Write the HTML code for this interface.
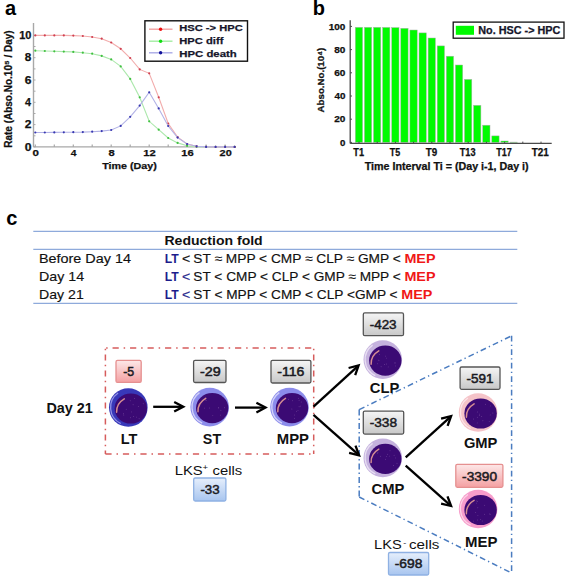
<!DOCTYPE html>
<html><head><meta charset="utf-8"><title>Figure</title>
<style>
html,body{margin:0;padding:0;background:#fff;}
body{width:567px;height:579px;overflow:hidden;}
svg{display:block;font-family:"Liberation Sans", sans-serif;}
</style></head><body>
<svg width="567" height="579" viewBox="0 0 567 579">
<defs>
<linearGradient id="gG" x1="0" y1="0" x2="0" y2="1"><stop offset="0" stop-color="#f5f5f5"/><stop offset="1" stop-color="#c8c8c8"/></linearGradient>
<linearGradient id="gP" x1="0" y1="0" x2="0" y2="1"><stop offset="0" stop-color="#fde8e8"/><stop offset="1" stop-color="#f4a0a2"/></linearGradient>
<linearGradient id="gB" x1="0" y1="0" x2="0" y2="1"><stop offset="0" stop-color="#e6effc"/><stop offset="1" stop-color="#a8c5ef"/></linearGradient>
</defs>
<text x="5" y="15.2" font-size="20" font-weight="bold">a</text>
<text x="312.8" y="15.2" font-size="20" font-weight="bold">b</text>
<text x="6.3" y="224.8" font-size="20" font-weight="bold">c</text>
<g id="chartA">
<line x1="33.5" y1="23" x2="33.5" y2="146.9" stroke="#a8a8a8" stroke-width="1.4"/>
<line x1="33.5" y1="146.9" x2="236" y2="146.9" stroke="#a8a8a8" stroke-width="1.4"/>
<line x1="35.3" y1="146.9" x2="35.3" y2="144.4" stroke="#a8a8a8" stroke-width="1.2"/>
<line x1="54.3" y1="146.9" x2="54.3" y2="144.4" stroke="#a8a8a8" stroke-width="1.2"/>
<line x1="73.3" y1="146.9" x2="73.3" y2="144.4" stroke="#a8a8a8" stroke-width="1.2"/>
<line x1="92.2" y1="146.9" x2="92.2" y2="144.4" stroke="#a8a8a8" stroke-width="1.2"/>
<line x1="111.2" y1="146.9" x2="111.2" y2="144.4" stroke="#a8a8a8" stroke-width="1.2"/>
<line x1="130.2" y1="146.9" x2="130.2" y2="144.4" stroke="#a8a8a8" stroke-width="1.2"/>
<line x1="149.2" y1="146.9" x2="149.2" y2="144.4" stroke="#a8a8a8" stroke-width="1.2"/>
<line x1="168.2" y1="146.9" x2="168.2" y2="144.4" stroke="#a8a8a8" stroke-width="1.2"/>
<line x1="187.1" y1="146.9" x2="187.1" y2="144.4" stroke="#a8a8a8" stroke-width="1.2"/>
<line x1="206.1" y1="146.9" x2="206.1" y2="144.4" stroke="#a8a8a8" stroke-width="1.2"/>
<line x1="225.1" y1="146.9" x2="225.1" y2="144.4" stroke="#a8a8a8" stroke-width="1.2"/>
<line x1="33.5" y1="146.9" x2="35.5" y2="146.9" stroke="#a8a8a8" stroke-width="1"/>
<line x1="33.5" y1="135.8" x2="35.5" y2="135.8" stroke="#a8a8a8" stroke-width="1"/>
<line x1="33.5" y1="124.6" x2="35.5" y2="124.6" stroke="#a8a8a8" stroke-width="1"/>
<line x1="33.5" y1="113.5" x2="35.5" y2="113.5" stroke="#a8a8a8" stroke-width="1"/>
<line x1="33.5" y1="102.3" x2="35.5" y2="102.3" stroke="#a8a8a8" stroke-width="1"/>
<line x1="33.5" y1="91.2" x2="35.5" y2="91.2" stroke="#a8a8a8" stroke-width="1"/>
<line x1="33.5" y1="80.0" x2="35.5" y2="80.0" stroke="#a8a8a8" stroke-width="1"/>
<line x1="33.5" y1="68.9" x2="35.5" y2="68.9" stroke="#a8a8a8" stroke-width="1"/>
<line x1="33.5" y1="57.7" x2="35.5" y2="57.7" stroke="#a8a8a8" stroke-width="1"/>
<line x1="33.5" y1="46.5" x2="35.5" y2="46.5" stroke="#a8a8a8" stroke-width="1"/>
<line x1="33.5" y1="35.4" x2="35.5" y2="35.4" stroke="#a8a8a8" stroke-width="1"/>
<text x="24.72" y="150.5" font-size="10.17" font-weight="bold" fill="#111" textLength="6.78" lengthAdjust="spacingAndGlyphs" stroke="#111" stroke-width="0.25">0</text>
<text x="24.78" y="128.2" font-size="10.17" font-weight="bold" fill="#111" textLength="6.70" lengthAdjust="spacingAndGlyphs" stroke="#111" stroke-width="0.25">2</text>
<text x="25.04" y="105.9" font-size="10.17" font-weight="bold" fill="#111" textLength="6.02" lengthAdjust="spacingAndGlyphs" stroke="#111" stroke-width="0.25">4</text>
<text x="24.76" y="83.6" font-size="10.17" font-weight="bold" fill="#111" textLength="6.67" lengthAdjust="spacingAndGlyphs" stroke="#111" stroke-width="0.25">6</text>
<text x="24.83" y="61.3" font-size="10.17" font-weight="bold" fill="#111" textLength="6.53" lengthAdjust="spacingAndGlyphs" stroke="#111" stroke-width="0.25">8</text>
<text x="19.21" y="39.0" font-size="10.17" font-weight="bold" fill="#111" textLength="12.24" lengthAdjust="spacingAndGlyphs" stroke="#111" stroke-width="0.25">10</text>
<text x="32.59" y="156.1" font-size="9.59" font-weight="bold" fill="#111" textLength="6.43" lengthAdjust="spacingAndGlyphs" stroke="#111" stroke-width="0.25">0</text>
<text x="70.85" y="156.1" font-size="9.59" font-weight="bold" fill="#111" textLength="5.71" lengthAdjust="spacingAndGlyphs" stroke="#111" stroke-width="0.25">4</text>
<text x="108.62" y="156.1" font-size="9.59" font-weight="bold" fill="#111" textLength="6.20" lengthAdjust="spacingAndGlyphs" stroke="#111" stroke-width="0.25">8</text>
<text x="143.32" y="156.1" font-size="9.59" font-weight="bold" fill="#111" textLength="12.45" lengthAdjust="spacingAndGlyphs" stroke="#111" stroke-width="0.25">12</text>
<text x="181.29" y="156.1" font-size="9.59" font-weight="bold" fill="#111" textLength="12.41" lengthAdjust="spacingAndGlyphs" stroke="#111" stroke-width="0.25">16</text>
<text x="219.57" y="156.1" font-size="9.59" font-weight="bold" fill="#111" textLength="12.13" lengthAdjust="spacingAndGlyphs" stroke="#111" stroke-width="0.25">20</text>
<text x="102.28" y="169.2" font-size="9.59" font-weight="bold" fill="#111" textLength="54.55" lengthAdjust="spacingAndGlyphs" stroke="#111" stroke-width="0.25">Time (Day)</text>
<text transform="translate(12.1,147.1) rotate(-90)" x="-0.67" y="0" font-size="10.47" font-weight="bold" fill="#111" stroke="#111" stroke-width="0.25" textLength="117.37" lengthAdjust="spacingAndGlyphs">Rate (Abso.No.10⁵ / Day)</text>
<polyline points="35.3,50.7 44.8,51.0 54.3,51.3 63.8,51.6 73.3,51.9 82.8,52.7 92.2,53.7 101.7,55.9 111.2,59.4 120.7,66.4 130.2,78.9 139.7,97.3 149.2,121.3 158.7,129.7 168.2,138.0 177.6,142.9 187.1,145.8 196.6,146.7 206.1,146.9 215.6,146.9 225.1,146.9 234.6,146.9" fill="none" stroke="#ace8ac" stroke-width="1.1"/>
<circle cx="35.3" cy="50.7" r="1.1" fill="#40c040"/>
<circle cx="44.8" cy="51.0" r="1.1" fill="#40c040"/>
<circle cx="54.3" cy="51.3" r="1.1" fill="#40c040"/>
<circle cx="63.8" cy="51.6" r="1.1" fill="#40c040"/>
<circle cx="73.3" cy="51.9" r="1.1" fill="#40c040"/>
<circle cx="82.8" cy="52.7" r="1.1" fill="#40c040"/>
<circle cx="92.2" cy="53.7" r="1.1" fill="#40c040"/>
<circle cx="101.7" cy="55.9" r="1.1" fill="#40c040"/>
<circle cx="111.2" cy="59.4" r="1.1" fill="#40c040"/>
<circle cx="120.7" cy="66.4" r="1.1" fill="#40c040"/>
<circle cx="130.2" cy="78.9" r="1.1" fill="#40c040"/>
<circle cx="139.7" cy="97.3" r="1.1" fill="#40c040"/>
<circle cx="149.2" cy="121.3" r="1.1" fill="#40c040"/>
<circle cx="158.7" cy="129.7" r="1.1" fill="#40c040"/>
<circle cx="168.2" cy="138.0" r="1.1" fill="#40c040"/>
<circle cx="177.6" cy="142.9" r="1.1" fill="#40c040"/>
<circle cx="187.1" cy="145.8" r="1.1" fill="#40c040"/>
<circle cx="196.6" cy="146.7" r="1.1" fill="#40c040"/>
<circle cx="206.1" cy="146.9" r="1.1" fill="#40c040"/>
<circle cx="215.6" cy="146.9" r="1.1" fill="#40c040"/>
<circle cx="225.1" cy="146.9" r="1.1" fill="#40c040"/>
<circle cx="234.6" cy="146.9" r="1.1" fill="#40c040"/>
<polyline points="35.3,35.4 44.8,35.4 54.3,35.4 63.8,35.4 73.3,35.6 82.8,36.0 92.2,37.0 101.7,38.7 111.2,42.5 120.7,48.8 130.2,58.0 139.7,69.4 149.2,73.3 158.7,97.3 168.2,123.5 177.6,137.1 187.1,144.0 196.6,146.3 206.1,146.8 215.6,146.9 225.1,146.9 234.6,146.9" fill="none" stroke="#f2acac" stroke-width="1.1"/>
<circle cx="35.3" cy="35.4" r="1.1" fill="#d04050"/>
<circle cx="44.8" cy="35.4" r="1.1" fill="#d04050"/>
<circle cx="54.3" cy="35.4" r="1.1" fill="#d04050"/>
<circle cx="63.8" cy="35.4" r="1.1" fill="#d04050"/>
<circle cx="73.3" cy="35.6" r="1.1" fill="#d04050"/>
<circle cx="82.8" cy="36.0" r="1.1" fill="#d04050"/>
<circle cx="92.2" cy="37.0" r="1.1" fill="#d04050"/>
<circle cx="101.7" cy="38.7" r="1.1" fill="#d04050"/>
<circle cx="111.2" cy="42.5" r="1.1" fill="#d04050"/>
<circle cx="120.7" cy="48.8" r="1.1" fill="#d04050"/>
<circle cx="130.2" cy="58.0" r="1.1" fill="#d04050"/>
<circle cx="139.7" cy="69.4" r="1.1" fill="#d04050"/>
<circle cx="149.2" cy="73.3" r="1.1" fill="#d04050"/>
<circle cx="158.7" cy="97.3" r="1.1" fill="#d04050"/>
<circle cx="168.2" cy="123.5" r="1.1" fill="#d04050"/>
<circle cx="177.6" cy="137.1" r="1.1" fill="#d04050"/>
<circle cx="187.1" cy="144.0" r="1.1" fill="#d04050"/>
<circle cx="196.6" cy="146.3" r="1.1" fill="#d04050"/>
<circle cx="206.1" cy="146.8" r="1.1" fill="#d04050"/>
<circle cx="215.6" cy="146.9" r="1.1" fill="#d04050"/>
<circle cx="225.1" cy="146.9" r="1.1" fill="#d04050"/>
<circle cx="234.6" cy="146.9" r="1.1" fill="#d04050"/>
<polyline points="35.3,132.5 44.8,132.5 54.3,132.4 63.8,132.3 73.3,132.2 82.8,132.1 92.2,131.7 101.7,131.1 111.2,130.0 120.7,125.9 130.2,116.8 139.7,105.6 149.2,92.3 158.7,108.4 168.2,126.0 177.6,137.6 187.1,144.0 196.6,146.3 206.1,146.9 215.6,146.9 225.1,146.9 234.6,146.9" fill="none" stroke="#b2b2e6" stroke-width="1.1"/>
<circle cx="35.3" cy="132.5" r="1.1" fill="#3838b0"/>
<circle cx="44.8" cy="132.5" r="1.1" fill="#3838b0"/>
<circle cx="54.3" cy="132.4" r="1.1" fill="#3838b0"/>
<circle cx="63.8" cy="132.3" r="1.1" fill="#3838b0"/>
<circle cx="73.3" cy="132.2" r="1.1" fill="#3838b0"/>
<circle cx="82.8" cy="132.1" r="1.1" fill="#3838b0"/>
<circle cx="92.2" cy="131.7" r="1.1" fill="#3838b0"/>
<circle cx="101.7" cy="131.1" r="1.1" fill="#3838b0"/>
<circle cx="111.2" cy="130.0" r="1.1" fill="#3838b0"/>
<circle cx="120.7" cy="125.9" r="1.1" fill="#3838b0"/>
<circle cx="130.2" cy="116.8" r="1.1" fill="#3838b0"/>
<circle cx="139.7" cy="105.6" r="1.1" fill="#3838b0"/>
<circle cx="149.2" cy="92.3" r="1.1" fill="#3838b0"/>
<circle cx="158.7" cy="108.4" r="1.1" fill="#3838b0"/>
<circle cx="168.2" cy="126.0" r="1.1" fill="#3838b0"/>
<circle cx="177.6" cy="137.6" r="1.1" fill="#3838b0"/>
<circle cx="187.1" cy="144.0" r="1.1" fill="#3838b0"/>
<circle cx="196.6" cy="146.3" r="1.1" fill="#3838b0"/>
<circle cx="206.1" cy="146.9" r="1.1" fill="#3838b0"/>
<circle cx="215.6" cy="146.9" r="1.1" fill="#3838b0"/>
<circle cx="225.1" cy="146.9" r="1.1" fill="#3838b0"/>
<circle cx="234.6" cy="146.9" r="1.1" fill="#3838b0"/>
<rect x="144.9" y="20.8" width="102.6" height="40.4" fill="#fff" stroke="#111" stroke-width="1.4"/>
<line x1="149" y1="29.2" x2="172.5" y2="29.2" stroke="#f2a2a2" stroke-width="1.4"/>
<circle cx="160.6" cy="29.2" r="1.7" fill="#ee1111"/>
<text x="179.25" y="31.3" font-size="9.74" font-weight="bold" fill="#15152a" textLength="63.45" lengthAdjust="spacingAndGlyphs" stroke="#15152a" stroke-width="0.25">HSC -&gt; HPC</text>
<line x1="149" y1="41.2" x2="172.5" y2="41.2" stroke="#a2eca2" stroke-width="1.4"/>
<circle cx="160.6" cy="41.2" r="1.7" fill="#11dd11"/>
<text x="179.25" y="44.0" font-size="9.74" font-weight="bold" fill="#15152a" textLength="44.13" lengthAdjust="spacingAndGlyphs" stroke="#15152a" stroke-width="0.25">HPC diff</text>
<line x1="149" y1="52.8" x2="172.5" y2="52.8" stroke="#aaaae6" stroke-width="1.4"/>
<circle cx="160.6" cy="52.8" r="1.7" fill="#111199"/>
<text x="179.24" y="56.7" font-size="9.74" font-weight="bold" fill="#15152a" textLength="57.47" lengthAdjust="spacingAndGlyphs" stroke="#15152a" stroke-width="0.25">HPC death</text>
</g>
<g id="chartB">
<rect x="355.3" y="27.3" width="7.3" height="115.1" fill="#00fb00" stroke="#a9b2a9" stroke-width="0.5"/>
<rect x="364.4" y="27.3" width="7.3" height="115.1" fill="#00fb00" stroke="#a9b2a9" stroke-width="0.5"/>
<rect x="373.5" y="27.3" width="7.3" height="115.1" fill="#00fb00" stroke="#a9b2a9" stroke-width="0.5"/>
<rect x="382.6" y="27.4" width="7.3" height="115.0" fill="#00fb00" stroke="#a9b2a9" stroke-width="0.5"/>
<rect x="391.7" y="27.6" width="7.3" height="114.8" fill="#00fb00" stroke="#a9b2a9" stroke-width="0.5"/>
<rect x="400.8" y="28.3" width="7.3" height="114.1" fill="#00fb00" stroke="#a9b2a9" stroke-width="0.5"/>
<rect x="409.9" y="30.0" width="7.3" height="112.4" fill="#00fb00" stroke="#a9b2a9" stroke-width="0.5"/>
<rect x="419.0" y="32.9" width="7.3" height="109.5" fill="#00fb00" stroke="#a9b2a9" stroke-width="0.5"/>
<rect x="428.1" y="38.0" width="7.3" height="104.4" fill="#00fb00" stroke="#a9b2a9" stroke-width="0.5"/>
<rect x="437.2" y="45.9" width="7.3" height="96.5" fill="#00fb00" stroke="#a9b2a9" stroke-width="0.5"/>
<rect x="446.3" y="56.2" width="7.3" height="86.2" fill="#00fb00" stroke="#a9b2a9" stroke-width="0.5"/>
<rect x="455.4" y="65.0" width="7.3" height="77.4" fill="#00fb00" stroke="#a9b2a9" stroke-width="0.5"/>
<rect x="464.5" y="79.4" width="7.3" height="63.0" fill="#00fb00" stroke="#a9b2a9" stroke-width="0.5"/>
<rect x="473.6" y="105.3" width="7.3" height="37.1" fill="#00fb00" stroke="#a9b2a9" stroke-width="0.5"/>
<rect x="482.7" y="125.2" width="7.3" height="17.2" fill="#00fb00" stroke="#a9b2a9" stroke-width="0.5"/>
<rect x="491.8" y="135.9" width="7.3" height="6.5" fill="#00fb00" stroke="#a9b2a9" stroke-width="0.5"/>
<rect x="500.9" y="141.0" width="7.3" height="1.4" fill="#00fb00" stroke="#a9b2a9" stroke-width="0.5"/>
<rect x="510.0" y="142.1" width="7.3" height="0.3" fill="#00fb00" stroke="#a9b2a9" stroke-width="0.5"/>
<line x1="350.2" y1="20.3" x2="350.2" y2="143.4" stroke="#4a4a4a" stroke-width="1.3"/>
<line x1="350.2" y1="143.4" x2="551.7" y2="143.4" stroke="#4a4a4a" stroke-width="1.3"/>
<line x1="350.2" y1="142.4" x2="352.0" y2="142.4" stroke="#4a4a4a" stroke-width="1"/>
<text x="340.02" y="145.6" font-size="9.16" font-weight="bold" fill="#111" textLength="5.38" lengthAdjust="spacingAndGlyphs" stroke="#111" stroke-width="0.25">0</text>
<line x1="350.2" y1="119.2" x2="352.0" y2="119.2" stroke="#4a4a4a" stroke-width="1"/>
<text x="334.25" y="122.4" font-size="9.16" font-weight="bold" fill="#111" textLength="11.16" lengthAdjust="spacingAndGlyphs" stroke="#111" stroke-width="0.25">20</text>
<line x1="350.2" y1="96.0" x2="352.0" y2="96.0" stroke="#4a4a4a" stroke-width="1"/>
<text x="334.45" y="99.2" font-size="9.16" font-weight="bold" fill="#111" textLength="10.95" lengthAdjust="spacingAndGlyphs" stroke="#111" stroke-width="0.25">40</text>
<line x1="350.2" y1="72.8" x2="352.0" y2="72.8" stroke="#4a4a4a" stroke-width="1"/>
<text x="334.23" y="76.0" font-size="9.16" font-weight="bold" fill="#111" textLength="11.18" lengthAdjust="spacingAndGlyphs" stroke="#111" stroke-width="0.25">60</text>
<line x1="350.2" y1="49.6" x2="352.0" y2="49.6" stroke="#4a4a4a" stroke-width="1"/>
<text x="334.28" y="52.8" font-size="9.16" font-weight="bold" fill="#111" textLength="11.13" lengthAdjust="spacingAndGlyphs" stroke="#111" stroke-width="0.25">80</text>
<line x1="350.2" y1="26.4" x2="352.0" y2="26.4" stroke="#4a4a4a" stroke-width="1"/>
<text x="328.77" y="29.6" font-size="9.16" font-weight="bold" fill="#111" textLength="16.64" lengthAdjust="spacingAndGlyphs" stroke="#111" stroke-width="0.25">100</text>
<line x1="359.0" y1="143.4" x2="359.0" y2="141.6" stroke="#4a4a4a" stroke-width="1"/>
<line x1="377.2" y1="143.4" x2="377.2" y2="141.6" stroke="#4a4a4a" stroke-width="1"/>
<line x1="395.4" y1="143.4" x2="395.4" y2="141.6" stroke="#4a4a4a" stroke-width="1"/>
<line x1="413.6" y1="143.4" x2="413.6" y2="141.6" stroke="#4a4a4a" stroke-width="1"/>
<line x1="431.8" y1="143.4" x2="431.8" y2="141.6" stroke="#4a4a4a" stroke-width="1"/>
<line x1="450.0" y1="143.4" x2="450.0" y2="141.6" stroke="#4a4a4a" stroke-width="1"/>
<line x1="468.2" y1="143.4" x2="468.2" y2="141.6" stroke="#4a4a4a" stroke-width="1"/>
<line x1="486.4" y1="143.4" x2="486.4" y2="141.6" stroke="#4a4a4a" stroke-width="1"/>
<line x1="504.6" y1="143.4" x2="504.6" y2="141.6" stroke="#4a4a4a" stroke-width="1"/>
<line x1="522.8" y1="143.4" x2="522.8" y2="141.6" stroke="#4a4a4a" stroke-width="1"/>
<line x1="541.0" y1="143.4" x2="541.0" y2="141.6" stroke="#4a4a4a" stroke-width="1"/>
<text x="353.30" y="155.9" font-size="10.32" font-weight="bold" fill="#111" textLength="10.76" lengthAdjust="spacingAndGlyphs" stroke="#111" stroke-width="0.25">T1</text>
<text x="389.77" y="155.9" font-size="10.32" font-weight="bold" fill="#111" textLength="10.45" lengthAdjust="spacingAndGlyphs" stroke="#111" stroke-width="0.25">T5</text>
<text x="425.63" y="155.9" font-size="10.32" font-weight="bold" fill="#111" textLength="11.48" lengthAdjust="spacingAndGlyphs" stroke="#111" stroke-width="0.25">T9</text>
<text x="459.76" y="155.9" font-size="10.32" font-weight="bold" fill="#111" textLength="15.84" lengthAdjust="spacingAndGlyphs" stroke="#111" stroke-width="0.25">T13</text>
<text x="496.23" y="155.9" font-size="10.32" font-weight="bold" fill="#111" textLength="15.60" lengthAdjust="spacingAndGlyphs" stroke="#111" stroke-width="0.25">T17</text>
<text x="531.74" y="155.9" font-size="10.32" font-weight="bold" fill="#111" textLength="17.09" lengthAdjust="spacingAndGlyphs" stroke="#111" stroke-width="0.25">T21</text>
<text x="364.68" y="169.7" font-size="10.03" font-weight="bold" fill="#111" textLength="163.95" lengthAdjust="spacingAndGlyphs" stroke="#111" stroke-width="0.25">Time Interval Ti = (Day i-1, Day i)</text>
<text transform="translate(323.7,112.2) rotate(-90)" x="-0.24" y="0" font-size="9.59" font-weight="bold" fill="#111" stroke="#111" stroke-width="0.25" textLength="64.62" lengthAdjust="spacingAndGlyphs">Abso.No.(10⁴)</text>
<rect x="453.2" y="22.1" width="110.8" height="16.1" fill="#fff" stroke="#111" stroke-width="1.3"/>
<rect x="455.8" y="25.8" width="18.2" height="9" fill="#00fb00"/>
<text x="478.28" y="33.9" font-size="10.32" font-weight="bold" fill="#15152a" textLength="82.02" lengthAdjust="spacingAndGlyphs" stroke="#15152a" stroke-width="0.25">No. HSC -&gt; HPC</text>
</g>
<g id="panelC">
<line x1="33.3" y1="231.3" x2="517.3" y2="231.3" stroke="#8eaadb" stroke-width="1.3"/>
<line x1="33.3" y1="249.4" x2="517.3" y2="249.4" stroke="#8eaadb" stroke-width="1.3"/>
<line x1="33.3" y1="303.4" x2="517.3" y2="303.4" stroke="#8eaadb" stroke-width="1.3"/>
<text x="164.46" y="245.1" font-size="13.08" font-weight="bold" fill="#111" textLength="98.26" lengthAdjust="spacingAndGlyphs">Reduction fold</text>
<text x="39.02" y="263.4" font-size="12.79" fill="#111" textLength="91.90" lengthAdjust="spacingAndGlyphs" stroke="#111" stroke-width="0.15">Before Day 14</text>
<text x="164.63" y="263.4" font-size="12.79" font-weight="bold" fill="#1c1c8c" textLength="13.99" lengthAdjust="spacingAndGlyphs">LT</text>
<text x="182.00" y="263.4" font-size="12.79" fill="#111" textLength="8.29" lengthAdjust="spacingAndGlyphs" stroke="#111" stroke-width="0.15">&lt;</text>
<text x="193.38" y="263.4" font-size="12.79" fill="#111" textLength="207.39" lengthAdjust="spacingAndGlyphs" stroke="#111" stroke-width="0.15">ST ≈ MPP &lt; CMP ≈ CLP ≈ GMP &lt;</text>
<text x="404.44" y="263.4" font-size="12.79" font-weight="bold" fill="#f01818" textLength="31.05" lengthAdjust="spacingAndGlyphs">MEP</text>
<text x="39.03" y="281.3" font-size="12.79" fill="#111" textLength="45.08" lengthAdjust="spacingAndGlyphs" stroke="#111" stroke-width="0.15">Day 14</text>
<text x="164.63" y="281.3" font-size="12.79" font-weight="bold" fill="#1c1c8c" textLength="13.99" lengthAdjust="spacingAndGlyphs">LT</text>
<text x="182.00" y="281.3" font-size="12.79" fill="#2a2a8c" textLength="8.29" lengthAdjust="spacingAndGlyphs" stroke="#2a2a8c" stroke-width="0.15">&lt;</text>
<text x="193.38" y="281.3" font-size="12.79" fill="#111" textLength="207.38" lengthAdjust="spacingAndGlyphs" stroke="#111" stroke-width="0.15">ST &lt; CMP &lt; CLP &lt; GMP ≈ MPP &lt;</text>
<text x="404.44" y="281.3" font-size="12.79" font-weight="bold" fill="#f01818" textLength="31.05" lengthAdjust="spacingAndGlyphs">MEP</text>
<text x="39.04" y="299.2" font-size="12.79" fill="#111" textLength="44.75" lengthAdjust="spacingAndGlyphs" stroke="#111" stroke-width="0.15">Day 21</text>
<text x="164.63" y="299.2" font-size="12.79" font-weight="bold" fill="#1c1c8c" textLength="13.99" lengthAdjust="spacingAndGlyphs">LT</text>
<text x="182.00" y="299.2" font-size="12.79" fill="#2a2a8c" textLength="8.29" lengthAdjust="spacingAndGlyphs" stroke="#2a2a8c" stroke-width="0.15">&lt;</text>
<text x="193.38" y="299.2" font-size="12.79" fill="#111" textLength="204.18" lengthAdjust="spacingAndGlyphs" stroke="#111" stroke-width="0.15">ST &lt; MPP &lt; CMP &lt; CLP &lt;GMP &lt;</text>
<text x="401.24" y="299.2" font-size="12.79" font-weight="bold" fill="#f01818" textLength="31.15" lengthAdjust="spacingAndGlyphs">MEP</text>
</g>
<g id="diagram">
<line x1="105.4" y1="348.1" x2="313.7" y2="348.1" stroke="#d65c5c" stroke-width="1.5" stroke-dasharray="6.2,4.9,1.5,4.9" stroke-dashoffset="10.35"/>
<line x1="313.7" y1="348.1" x2="313.7" y2="453.9" stroke="#d65c5c" stroke-width="1.5" stroke-dasharray="5.8,4.4,1.4,4.4" stroke-dashoffset="9.5"/>
<line x1="105.4" y1="453.9" x2="313.7" y2="453.9" stroke="#d65c5c" stroke-width="1.5" stroke-dasharray="6.2,4.9,1.5,4.9" stroke-dashoffset="0"/>
<line x1="105.4" y1="348.1" x2="105.4" y2="453.9" stroke="#d65c5c" stroke-width="1.5" stroke-dasharray="5.8,4.4,1.4,4.4" stroke-dashoffset="9.5"/>
<line x1="359.2" y1="409.6" x2="511.6" y2="335.8" stroke="#4a7cc0" stroke-width="1.5" stroke-dasharray="5.8,3.2,1.3,3.2" stroke-dashoffset="0"/>
<line x1="511.6" y1="335.8" x2="511.6" y2="573.0" stroke="#4a7cc0" stroke-width="1.5" stroke-dasharray="5.8,3.2,1.3,3.2" stroke-dashoffset="0"/>
<line x1="359.2" y1="409.6" x2="359.2" y2="497.0" stroke="#4a7cc0" stroke-width="1.5" stroke-dasharray="5.8,3.2,1.3,3.2" stroke-dashoffset="0"/>
<line x1="359.2" y1="497.0" x2="511.6" y2="573.0" stroke="#4a7cc0" stroke-width="1.5" stroke-dasharray="5.8,3.2,1.3,3.2" stroke-dashoffset="0"/>
<text x="46.44" y="412.8" font-size="13.81" font-weight="bold" fill="#111" textLength="46.36" lengthAdjust="spacingAndGlyphs">Day 21</text>
<circle cx="128.3" cy="407.5" r="19.3" fill="#3838b8"/>
<path d="M120.8,423.5 A17.7,17.7 0 0 1 118.1,393.0" fill="none" stroke="#a8a8f0" stroke-width="1.3" opacity="0.8"/>
<ellipse cx="130.8" cy="408.5" rx="16.2" ry="15.1" fill="#3b0a74"/>
<circle cx="134.4" cy="398.5" r="0.45" fill="#9a70b8" opacity="0.7"/><circle cx="131.5" cy="411.9" r="0.45" fill="#9a70b8" opacity="0.7"/><circle cx="139.1" cy="418.7" r="0.45" fill="#9a70b8" opacity="0.7"/><circle cx="143.2" cy="403.7" r="0.45" fill="#9a70b8" opacity="0.7"/><circle cx="123.8" cy="415.0" r="0.45" fill="#9a70b8" opacity="0.7"/><circle cx="130.2" cy="400.8" r="0.45" fill="#9a70b8" opacity="0.7"/><circle cx="126.2" cy="409.3" r="0.45" fill="#9a70b8" opacity="0.7"/><circle cx="136.4" cy="417.1" r="0.45" fill="#9a70b8" opacity="0.7"/><circle cx="133.1" cy="404.7" r="0.45" fill="#9a70b8" opacity="0.7"/><circle cx="130.5" cy="417.7" r="0.45" fill="#9a70b8" opacity="0.7"/><circle cx="138.3" cy="406.5" r="0.45" fill="#9a70b8" opacity="0.7"/><circle cx="133.7" cy="416.5" r="0.45" fill="#9a70b8" opacity="0.7"/><circle cx="123.6" cy="413.8" r="0.45" fill="#9a70b8" opacity="0.7"/>
<path d="M116.6,412.2 Q116.2,403.5 124.3,398.8" fill="none" stroke="#e49a96" stroke-width="1.5" stroke-linecap="round" opacity="0.9"/>
<text x="120.69" y="443.9" font-size="14.10" font-weight="bold" fill="#111" textLength="16.66" lengthAdjust="spacingAndGlyphs">LT</text>
<circle cx="209.7" cy="407.1" r="19.3" fill="#8c8ceb"/>
<path d="M202.2,423.1 A17.7,17.7 0 0 1 199.5,392.6" fill="none" stroke="#e4e4fc" stroke-width="1.3" opacity="0.8"/>
<ellipse cx="212.2" cy="408.1" rx="16.2" ry="15.1" fill="#3b0a74"/>
<circle cx="220.6" cy="415.1" r="0.45" fill="#9a70b8" opacity="0.7"/><circle cx="220.9" cy="410.3" r="0.45" fill="#9a70b8" opacity="0.7"/><circle cx="205.5" cy="400.0" r="0.45" fill="#9a70b8" opacity="0.7"/><circle cx="209.3" cy="408.0" r="0.45" fill="#9a70b8" opacity="0.7"/><circle cx="218.7" cy="407.7" r="0.45" fill="#9a70b8" opacity="0.7"/><circle cx="206.0" cy="398.1" r="0.45" fill="#9a70b8" opacity="0.7"/><circle cx="212.8" cy="415.4" r="0.45" fill="#9a70b8" opacity="0.7"/><circle cx="224.4" cy="407.8" r="0.45" fill="#9a70b8" opacity="0.7"/><circle cx="218.7" cy="407.9" r="0.45" fill="#9a70b8" opacity="0.7"/><circle cx="204.6" cy="408.1" r="0.45" fill="#9a70b8" opacity="0.7"/><circle cx="206.5" cy="400.6" r="0.45" fill="#9a70b8" opacity="0.7"/>
<path d="M198.0,411.8 Q197.5,403.1 205.7,398.4" fill="none" stroke="#e49a96" stroke-width="1.5" stroke-linecap="round" opacity="0.9"/>
<text x="202.89" y="443.9" font-size="14.10" font-weight="bold" fill="#111" textLength="18.27" lengthAdjust="spacingAndGlyphs">ST</text>
<circle cx="289.5" cy="407.1" r="19.3" fill="#8c8ceb"/>
<path d="M282.0,423.1 A17.7,17.7 0 0 1 279.3,392.6" fill="none" stroke="#e4e4fc" stroke-width="1.3" opacity="0.8"/>
<ellipse cx="292.0" cy="408.1" rx="16.2" ry="15.1" fill="#3b0a74"/>
<circle cx="296.4" cy="411.3" r="0.45" fill="#9a70b8" opacity="0.7"/><circle cx="298.3" cy="398.2" r="0.45" fill="#9a70b8" opacity="0.7"/><circle cx="299.1" cy="400.2" r="0.45" fill="#9a70b8" opacity="0.7"/><circle cx="292.5" cy="400.7" r="0.45" fill="#9a70b8" opacity="0.7"/><circle cx="291.9" cy="409.0" r="0.45" fill="#9a70b8" opacity="0.7"/><circle cx="294.7" cy="415.0" r="0.45" fill="#9a70b8" opacity="0.7"/><circle cx="300.6" cy="406.1" r="0.45" fill="#9a70b8" opacity="0.7"/><circle cx="298.0" cy="410.4" r="0.45" fill="#9a70b8" opacity="0.7"/><circle cx="299.1" cy="406.8" r="0.45" fill="#9a70b8" opacity="0.7"/><circle cx="301.2" cy="402.0" r="0.45" fill="#9a70b8" opacity="0.7"/><circle cx="288.4" cy="399.3" r="0.45" fill="#9a70b8" opacity="0.7"/><circle cx="294.6" cy="418.2" r="0.45" fill="#9a70b8" opacity="0.7"/>
<path d="M277.8,411.8 Q277.4,403.1 285.5,398.4" fill="none" stroke="#e49a96" stroke-width="1.5" stroke-linecap="round" opacity="0.9"/>
<text x="276.81" y="443.9" font-size="14.10" font-weight="bold" fill="#111" textLength="32.20" lengthAdjust="spacingAndGlyphs">MPP</text>
<circle cx="382.8" cy="359.6" r="19.3" fill="#c5b2de"/>
<path d="M375.3,375.6 A17.7,17.7 0 0 1 372.6,345.1" fill="none" stroke="#f0eaf8" stroke-width="1.3" opacity="0.8"/>
<ellipse cx="385.3" cy="360.6" rx="16.2" ry="15.1" fill="#3b0a74"/>
<circle cx="395.0" cy="363.4" r="0.45" fill="#9a70b8" opacity="0.7"/><circle cx="379.3" cy="354.5" r="0.45" fill="#9a70b8" opacity="0.7"/><circle cx="395.0" cy="362.5" r="0.45" fill="#9a70b8" opacity="0.7"/><circle cx="377.7" cy="363.7" r="0.45" fill="#9a70b8" opacity="0.7"/><circle cx="386.4" cy="364.0" r="0.45" fill="#9a70b8" opacity="0.7"/><circle cx="384.4" cy="364.5" r="0.45" fill="#9a70b8" opacity="0.7"/><circle cx="378.2" cy="360.1" r="0.45" fill="#9a70b8" opacity="0.7"/><circle cx="395.4" cy="365.9" r="0.45" fill="#9a70b8" opacity="0.7"/><circle cx="379.0" cy="360.7" r="0.45" fill="#9a70b8" opacity="0.7"/><circle cx="386.5" cy="358.1" r="0.45" fill="#9a70b8" opacity="0.7"/><circle cx="381.1" cy="366.8" r="0.45" fill="#9a70b8" opacity="0.7"/><circle cx="385.4" cy="356.1" r="0.45" fill="#9a70b8" opacity="0.7"/><circle cx="388.2" cy="366.9" r="0.45" fill="#9a70b8" opacity="0.7"/>
<path d="M371.1,364.3 Q370.7,355.6 378.8,350.9" fill="none" stroke="#e49a96" stroke-width="1.5" stroke-linecap="round" opacity="0.9"/>
<text x="369.79" y="393.1" font-size="14.10" font-weight="bold" fill="#111" textLength="29.51" lengthAdjust="spacingAndGlyphs">CLP</text>
<circle cx="382.8" cy="457.9" r="19.3" fill="#c5b2de"/>
<path d="M375.3,473.9 A17.7,17.7 0 0 1 372.6,443.4" fill="none" stroke="#f0eaf8" stroke-width="1.3" opacity="0.8"/>
<ellipse cx="385.3" cy="458.9" rx="16.2" ry="15.1" fill="#3b0a74"/>
<circle cx="377.5" cy="453.6" r="0.45" fill="#9a70b8" opacity="0.7"/><circle cx="385.4" cy="459.2" r="0.45" fill="#9a70b8" opacity="0.7"/><circle cx="395.4" cy="457.9" r="0.45" fill="#9a70b8" opacity="0.7"/><circle cx="386.6" cy="456.6" r="0.45" fill="#9a70b8" opacity="0.7"/><circle cx="387.7" cy="454.2" r="0.45" fill="#9a70b8" opacity="0.7"/><circle cx="389.3" cy="456.1" r="0.45" fill="#9a70b8" opacity="0.7"/><circle cx="397.0" cy="463.3" r="0.45" fill="#9a70b8" opacity="0.7"/><circle cx="380.3" cy="456.2" r="0.45" fill="#9a70b8" opacity="0.7"/><circle cx="394.1" cy="455.3" r="0.45" fill="#9a70b8" opacity="0.7"/><circle cx="393.6" cy="465.5" r="0.45" fill="#9a70b8" opacity="0.7"/><circle cx="377.9" cy="452.3" r="0.45" fill="#9a70b8" opacity="0.7"/><circle cx="390.0" cy="450.7" r="0.45" fill="#9a70b8" opacity="0.7"/>
<path d="M371.1,462.6 Q370.7,453.9 378.8,449.2" fill="none" stroke="#e49a96" stroke-width="1.5" stroke-linecap="round" opacity="0.9"/>
<text x="371.49" y="493.5" font-size="14.10" font-weight="bold" fill="#111" textLength="32.81" lengthAdjust="spacingAndGlyphs">CMP</text>
<circle cx="478.1" cy="412.5" r="19.3" fill="#f5c3c8"/>
<path d="M470.6,428.5 A17.7,17.7 0 0 1 467.9,398.0" fill="none" stroke="#fdeef0" stroke-width="1.3" opacity="0.8"/>
<ellipse cx="480.6" cy="413.5" rx="16.2" ry="15.1" fill="#3b0a74"/>
<circle cx="482.9" cy="420.7" r="0.45" fill="#9a70b8" opacity="0.7"/><circle cx="489.2" cy="421.4" r="0.45" fill="#9a70b8" opacity="0.7"/><circle cx="477.2" cy="422.9" r="0.45" fill="#9a70b8" opacity="0.7"/><circle cx="492.9" cy="413.0" r="0.45" fill="#9a70b8" opacity="0.7"/><circle cx="481.7" cy="416.5" r="0.45" fill="#9a70b8" opacity="0.7"/><circle cx="485.6" cy="404.3" r="0.45" fill="#9a70b8" opacity="0.7"/><circle cx="473.4" cy="419.0" r="0.45" fill="#9a70b8" opacity="0.7"/><circle cx="479.5" cy="414.1" r="0.45" fill="#9a70b8" opacity="0.7"/><circle cx="490.2" cy="414.9" r="0.45" fill="#9a70b8" opacity="0.7"/><circle cx="477.3" cy="417.2" r="0.45" fill="#9a70b8" opacity="0.7"/><circle cx="490.3" cy="405.9" r="0.45" fill="#9a70b8" opacity="0.7"/><circle cx="479.3" cy="415.3" r="0.45" fill="#9a70b8" opacity="0.7"/><circle cx="477.3" cy="412.0" r="0.45" fill="#9a70b8" opacity="0.7"/>
<path d="M466.4,417.2 Q466.0,408.5 474.1,403.8" fill="none" stroke="#e49a96" stroke-width="1.5" stroke-linecap="round" opacity="0.9"/>
<text x="463.90" y="448.1" font-size="14.10" font-weight="bold" fill="#111" textLength="33.51" lengthAdjust="spacingAndGlyphs">GMP</text>
<circle cx="478.1" cy="509.0" r="19.3" fill="#f79ccb"/>
<path d="M470.6,525.0 A17.7,17.7 0 0 1 467.9,494.5" fill="none" stroke="#fde2ee" stroke-width="1.3" opacity="0.8"/>
<ellipse cx="480.6" cy="510.0" rx="16.2" ry="15.1" fill="#3b0a74"/>
<circle cx="484.4" cy="514.2" r="0.45" fill="#9a70b8" opacity="0.7"/><circle cx="484.7" cy="505.2" r="0.45" fill="#9a70b8" opacity="0.7"/><circle cx="489.6" cy="513.9" r="0.45" fill="#9a70b8" opacity="0.7"/><circle cx="476.6" cy="503.1" r="0.45" fill="#9a70b8" opacity="0.7"/><circle cx="482.2" cy="521.0" r="0.45" fill="#9a70b8" opacity="0.7"/><circle cx="477.7" cy="520.0" r="0.45" fill="#9a70b8" opacity="0.7"/><circle cx="476.3" cy="500.9" r="0.45" fill="#9a70b8" opacity="0.7"/><circle cx="480.7" cy="519.5" r="0.45" fill="#9a70b8" opacity="0.7"/><circle cx="475.7" cy="512.5" r="0.45" fill="#9a70b8" opacity="0.7"/><circle cx="477.9" cy="515.4" r="0.45" fill="#9a70b8" opacity="0.7"/><circle cx="477.8" cy="507.8" r="0.45" fill="#9a70b8" opacity="0.7"/><circle cx="473.6" cy="521.1" r="0.45" fill="#9a70b8" opacity="0.7"/><circle cx="477.6" cy="501.3" r="0.45" fill="#9a70b8" opacity="0.7"/><circle cx="490.2" cy="514.2" r="0.45" fill="#9a70b8" opacity="0.7"/>
<path d="M466.4,513.7 Q466.0,505.0 474.1,500.3" fill="none" stroke="#e49a96" stroke-width="1.5" stroke-linecap="round" opacity="0.9"/>
<text x="465.00" y="547.0" font-size="14.10" font-weight="bold" fill="#111" textLength="32.41" lengthAdjust="spacingAndGlyphs">MEP</text>
<rect x="116" y="360.4" width="25.2" height="22.0" rx="1.5" fill="url(#gP)" stroke="#e59090" stroke-width="1.3"/>
<text x="123.25" y="376.2" font-size="12.79" fill="#1a1a22" textLength="10.97" lengthAdjust="spacingAndGlyphs" stroke="#1a1a22" stroke-width="0.5">-5</text>
<rect x="193.6" y="360.3" width="32.4" height="22.2" rx="1.5" fill="url(#gG)" stroke="#555555" stroke-width="1.3"/>
<text x="199.96" y="376.2" font-size="12.79" fill="#1a1a22" textLength="20.72" lengthAdjust="spacingAndGlyphs" stroke="#1a1a22" stroke-width="0.5">-29</text>
<rect x="271" y="360.3" width="39.9" height="22.7" rx="1.5" fill="url(#gG)" stroke="#555555" stroke-width="1.3"/>
<text x="277.20" y="376.2" font-size="12.79" fill="#1a1a22" textLength="27.20" lengthAdjust="spacingAndGlyphs" stroke="#1a1a22" stroke-width="0.5">-116</text>
<rect x="363.3" y="312.9" width="40.2" height="22.8" rx="1.5" fill="url(#gG)" stroke="#555555" stroke-width="1.3"/>
<text x="369.70" y="328.8" font-size="12.79" fill="#1a1a22" textLength="26.89" lengthAdjust="spacingAndGlyphs" stroke="#1a1a22" stroke-width="0.5">-423</text>
<rect x="363.3" y="411.1" width="40.4" height="23.0" rx="1.5" fill="url(#gG)" stroke="#555555" stroke-width="1.3"/>
<text x="369.69" y="427.0" font-size="12.79" fill="#1a1a22" textLength="27.40" lengthAdjust="spacingAndGlyphs" stroke="#1a1a22" stroke-width="0.5">-338</text>
<rect x="460.1" y="367" width="39.9" height="22.3" rx="1.5" fill="url(#gG)" stroke="#555555" stroke-width="1.3"/>
<text x="466.60" y="382.6" font-size="12.79" fill="#1a1a22" textLength="26.96" lengthAdjust="spacingAndGlyphs" stroke="#1a1a22" stroke-width="0.5">-591</text>
<rect x="455.8" y="464.3" width="47.1" height="23.0" rx="1.5" fill="url(#gP)" stroke="#e59090" stroke-width="1.3"/>
<text x="462.09" y="480.6" font-size="12.79" fill="#1a1a22" textLength="35.04" lengthAdjust="spacingAndGlyphs" stroke="#1a1a22" stroke-width="0.5">-3390</text>
<rect x="193.7" y="478" width="32.2" height="23.0" rx="1.5" fill="url(#gB)" stroke="#8fb1e3" stroke-width="1.3"/>
<text x="200.41" y="493.9" font-size="12.79" fill="#1a1a22" textLength="19.17" lengthAdjust="spacingAndGlyphs" stroke="#1a1a22" stroke-width="0.5">-33</text>
<rect x="388.5" y="552.5" width="40.2" height="22.5" rx="1.5" fill="url(#gB)" stroke="#8fb1e3" stroke-width="1.3"/>
<text x="394.68" y="568.0" font-size="12.79" fill="#1a1a22" textLength="27.72" lengthAdjust="spacingAndGlyphs" stroke="#1a1a22" stroke-width="0.5">-698</text>
<line x1="153.2" y1="406.8" x2="182.3" y2="406.8" stroke="#000" stroke-width="2.3"/>
<polyline points="174.2,411.6 183.3,406.8 174.2,402.0" fill="none" stroke="#000" stroke-width="2.3" stroke-linejoin="miter"/>
<line x1="235" y1="407.6" x2="264.5" y2="407.6" stroke="#000" stroke-width="2.3"/>
<polyline points="256.4,412.4 265.5,407.6 256.4,402.8" fill="none" stroke="#000" stroke-width="2.3" stroke-linejoin="miter"/>
<line x1="313.5" y1="406.7" x2="357.9" y2="366.1" stroke="#000" stroke-width="2.3"/>
<polyline points="355.2,375.1 358.6,365.4 348.6,368.0" fill="none" stroke="#000" stroke-width="2.3" stroke-linejoin="miter"/>
<line x1="313.5" y1="414.8" x2="358.4" y2="454.6" stroke="#000" stroke-width="2.3"/>
<polyline points="349.1,452.9 359.1,455.3 355.5,445.6" fill="none" stroke="#000" stroke-width="2.3" stroke-linejoin="miter"/>
<line x1="405.7" y1="457.4" x2="450.4" y2="416.9" stroke="#000" stroke-width="2.3"/>
<polyline points="447.6,425.9 451.1,416.2 441.1,418.7" fill="none" stroke="#000" stroke-width="2.3" stroke-linejoin="miter"/>
<line x1="405.7" y1="465.7" x2="450.4" y2="505.3" stroke="#000" stroke-width="2.3"/>
<polyline points="441.1,503.6 451.1,506 447.5,496.3" fill="none" stroke="#000" stroke-width="2.3" stroke-linejoin="miter"/>
<text x="174.69" y="474.8" font-size="13.08" fill="#111" textLength="27.99" lengthAdjust="spacingAndGlyphs">LKS</text>
<text x="202.54" y="470.4" font-size="6.69" fill="#111" textLength="5.53" lengthAdjust="spacingAndGlyphs">+</text>
<text x="212.57" y="474.8" font-size="13.08" fill="#111" textLength="29.67" lengthAdjust="spacingAndGlyphs">cells</text>
<text x="374.10" y="548.5" font-size="13.52" fill="#111" textLength="27.67" lengthAdjust="spacingAndGlyphs">LKS</text>
<text x="403.30" y="544.5" font-size="7.27" fill="#111" textLength="3.00" lengthAdjust="spacingAndGlyphs">-</text>
<text x="409.06" y="548.5" font-size="13.52" fill="#111" textLength="30.29" lengthAdjust="spacingAndGlyphs">cells</text>
</g>
</svg>
</body></html>
